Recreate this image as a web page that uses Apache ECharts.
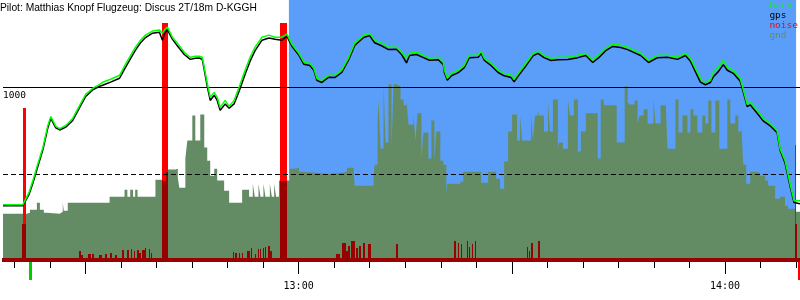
<!DOCTYPE html>
<html><head><meta charset="utf-8">
<script src="https://cdn.jsdelivr.net/npm/echarts@6/dist/echarts.min.js"></script>
<style>html,body{margin:0;padding:0;background:#fff}#c{width:800px;height:300px}</style>
</head><body><div id="c"></div>
<script>
// ---- data (time in minutes after 12:00, altitude in metres) ----
const titleText = 'Pilot: Matthias Knopf Flugzeug: Discus 2T/18m D-KGGH';
const legendNames = ['baro', 'gps', 'noise', 'gnd'];

const times = [18.4,21.2,21.48,22.05,22.61,23.31,24.01,24.71,25.13,25.41,25.83,26.39,27.23,28.21,29.19,30.04,31.02,32.00,32.42,33.54,34.80,35.50,36.20,37.04,37.75,38.45,39.43,40.41,40.83,41.11,41.53,42.23,42.93,43.91,44.76,45.46,46.02,46.44,46.72,47.14,47.56,48.12,48.54,48.96,49.66,50.22,50.92,51.62,52.47,53.17,53.87,54.85,55.83,56.67,57.65,58.35,59.05,60.04,60.74,61.58,62.14,62.56,63.26,64.24,65.08,66.07,67.05,67.89,69.15,69.99,70.69,71.67,72.65,73.78,74.48,75.18,75.60,76.58,77.56,78.40,79.66,80.36,80.50,80.92,81.49,82.47,83.31,84.01,85.27,85.69,86.11,87.09,88.07,88.92,89.90,90.32,91.02,92.00,92.98,93.68,94.52,95.50,96.48,97.89,99.29,100.41,101.39,102.23,103.21,104.20,105.32,106.30,107.14,108.12,109.24,110.50,111.91,113.31,114.43,115.13,115.83,116.53,117.23,117.94,118.36,119.06,119.76,120.32,121.16,122.14,122.56,123.12,123.54,124.52,125.36,126.35,127.33,127.75,128.45,129.15,129.71,130.55];

const baro = [328,328,339,397,466,563,655,782,833,822,776,764,782,822,897,960,994,1017,1029,1046,1069,1121,1172,1230,1270,1299,1322,1328,1310,1328,1345,1287,1253,1201,1172,1178,1178,1172,1115,1023,943,971,943,885,925,891,925,1000,1098,1172,1230,1287,1299,1287,1287,1305,1247,1195,1144,1138,1109,1052,1040,1069,1069,1098,1172,1253,1299,1310,1270,1253,1230,1230,1201,1167,1195,1201,1184,1167,1172,1144,1098,1052,1080,1098,1126,1184,1184,1207,1167,1138,1098,1080,1069,1046,1086,1138,1195,1207,1184,1167,1172,1172,1184,1195,1155,1184,1224,1247,1241,1230,1213,1195,1155,1184,1184,1172,1195,1167,1109,1052,1029,1040,1086,1115,1155,1115,1098,1052,989,902,914,868,822,793,753,649,580,448,351,351];

const gps = [322,322,330,385,452,548,642,768,822,815,768,756,772,810,885,948,985,1006,1012,1030,1052,1104,1155,1213,1255,1285,1310,1316,1270,1305,1330,1276,1238,1188,1160,1166,1168,1160,1100,1005,925,955,925,868,905,880,905,978,1075,1150,1210,1270,1282,1275,1270,1292,1235,1183,1132,1125,1098,1040,1028,1058,1056,1085,1158,1240,1285,1296,1255,1238,1216,1218,1188,1140,1182,1188,1170,1155,1158,1130,1085,1040,1066,1084,1112,1170,1172,1195,1155,1124,1085,1066,1056,1032,1072,1124,1180,1194,1170,1154,1158,1160,1170,1182,1142,1170,1210,1234,1228,1216,1200,1182,1142,1170,1172,1160,1182,1150,1090,1030,1015,1028,1060,1090,1130,1098,1080,1035,975,890,900,852,808,780,740,640,565,435,340,334];

// ground elevation steps [start time, altitude]
const gnd = [[18.4,276],[21.76,282],[22.19,299],[23.17,339],[23.59,299],[24.15,282],[24.57,276],[26.39,287],[26.81,339],[26.95,293],[27.51,339],[33.40,374],[35.50,414],[35.9,374],[36.3,414],[36.7,374],[37.0,414],[37.33,374],[39.85,471],[41.4,529],[42.65,534],[43.0,483],[43.21,425],[44.06,592],[44.34,695],[45.04,839],[45.46,695],[46.16,845],[46.72,655],[47.14,580],[47.56,494],[48.12,534],[48.54,466],[49.52,408],[50.22,339],[52.05,414],[53.03,374],[53.55,448],[53.83,374],[54.35,448],[54.63,374],[55.05,448],[55.33,374],[55.95,448],[56.23,374],[56.55,448],[56.83,374],[57.23,466],[58.77,534],[59.48,540],[60.04,517],[60.46,511],[62.5,505],[64.0,511],[66.06,517],[66.8,540],[67.75,517],[67.89,437],[70.55,477],[70.69,557],[71.11,799],[71.25,931],[71.53,649],[71.95,1017],[72.23,684],[72.65,1017],[73.07,649],[73.35,1017],[73.78,1006],[74.34,931],[74.76,897],[75.18,925],[75.46,787],[76.16,839],[76.44,695],[76.72,851],[77.28,592],[77.56,741],[78.26,592],[78.68,810],[79.10,580],[79.38,747],[79.94,580],[80.36,557],[80.78,397],[80.92,448],[82.75,460],[83.17,517],[85.69,454],[86.67,517],[87.79,477],[88.35,420],[88.92,575],[89.48,747],[90.04,845],[90.74,695],[91.16,839],[91.44,695],[92.70,839],[92.98,695],[93.26,839],[93.68,874],[93.82,839],[94.52,747],[95.08,925],[95.36,747],[95.78,931],[96.48,649],[96.62,684],[97.19,649],[97.89,931],[98.17,839],[98.73,931],[99.29,632],[99.71,747],[100.41,851],[102.09,592],[102.51,931],[102.93,897],[104.76,684],[105.88,1006],[106.30,914],[106.58,902],[107.28,925],[107.70,793],[107.98,839],[108.54,874],[109.10,793],[109.94,931],[110.22,793],[110.93,897],[111.63,931],[111.91,649],[113.03,931],[113.45,741],[114.01,839],[114.71,741],[115.13,874],[115.55,839],[116.11,741],[116.81,839],[117.23,793],[117.65,925],[118.08,741],[118.64,925],[119.20,649],[120.32,931],[120.74,793],[121.44,839],[121.86,747],[122.28,793],[122.56,557],[122.98,448],[123.54,517],[124.24,511],[124.94,494],[125.64,466],[126.07,437],[127.05,362],[127.75,374],[128.45,322],[128.87,305],[129.85,287],[130.55,287]];

// engine noise bars [start, end, level]
const noiseHigh = [[21.25,21.58,882],[40.83,41.67,1370],[57.51,58.35,1370],[129.85,130.0,672]];
const noiseLow = [[21.2,21.65,218],[40.83,41.4,466],[41.4,41.67,517],[57.51,58.35,466],[129.85,130.1,218],
 [29.19,29.35,63],[29.47,29.6,40],[30.5,30.8,46],[31.02,31.16,46],[32.0,32.4,40],[32.84,32.98,46],[33.54,33.68,52],[34.24,34.38,40],[35.22,35.36,69],[35.85,36.1,69],[36.48,36.62,75],[36.9,37.04,63],[37.33,37.47,69],[37.61,37.75,52],[38.1,38.35,69],[38.45,38.59,80],[39.01,39.15,75],[39.29,39.43,52],
 [50.78,50.92,57],[51.15,51.35,52],[51.62,51.76,52],[52.05,52.19,52],[52.85,53.1,63],[53.31,53.45,80],[53.87,54.01,46],[54.29,54.43,75],[54.57,54.71,75],[54.99,55.13,80],[55.27,55.41,86],[55.83,55.97,92],[56.11,56.25,63],
 [65.36,65.5,46],[65.64,65.78,46],[66.2,66.34,109],[66.48,66.62,109],[66.76,66.9,63],[67.05,67.19,92],[67.47,67.61,121],[67.75,67.89,121],[68.17,68.31,80],[68.59,68.73,92],[69.15,69.29,109],[69.85,69.99,103],[70.0,70.14,103],[73.78,73.92,103],
 [81.91,82.1,121],[82.47,82.61,109],[82.89,83.03,103],[83.73,83.87,121],[84.01,84.15,86],[84.43,84.57,103],[84.85,84.99,121],
 [92.14,92.28,86],[92.42,92.56,63],[92.7,92.98,109],[93.82,93.96,121]];
const noiseFloor = [[18.4,130.55,23]];

const blueSpan = [58.63, 130.0];
const refSolid = 1000, refDashed = 500;
const minorTicks = [20,25,35,40,45,50,55,65,70,75,80,85,95,100,105,110,115,125,130];
const majorTicks = [30,60,90,120];
const labelTicks = [60,120];
const altLabels = [1000];
const takeoff = 22.25, landing = 130.35;
const engineRuns = [[18.4,22.3],[130.4,130.55]];

// ---- chart ----
const MONO = '"DejaVu Sans Mono", monospace';
const fmtTime = v => { const h = 12 + Math.floor(v/60), m = Math.round(v%60); return h + ':' + String(m).padStart(2,'0'); };

function barRenderer(color){
  return function(params, api){
    const p0 = api.coord([api.value(0), api.value(2)]);
    const p1 = api.coord([api.value(1), 0]);
    const x = Math.floor(p0[0]);
    return {type:'rect', shape:{x:x, y:Math.round(p0[1]), width:Math.max(1, Math.round(p1[0]-x)), height:Math.round(p1[1]-p0[1])}, style:{fill:color}};
  };
}

const chart = echarts.init(document.getElementById('c'), null, {renderer:'canvas'});
const axisBase = {type:'value', min:18.4, max:130.55, position:'bottom', splitLine:{show:false}, axisLine:{show:false}};
chart.setOption({
  animation:false,
  title:{text:titleText, left:0, top:3, padding:0, textStyle:{fontFamily:'"Liberation Sans", Arial, sans-serif', fontSize:10.25, fontWeight:'normal', color:'#000'}},
  legend:{orient:'vertical', right:2, top:1, padding:0, icon:'none', itemWidth:0, itemHeight:9, itemGap:0, selectedMode:false,
    textStyle:{fontFamily:MONO, fontSize:9.5, lineHeight:9.5},
    data:[{name:'baro', textStyle:{color:'#00ff00'}},{name:'gps', textStyle:{color:'#000'}},{name:'noise', textStyle:{color:'#ff0000'}},{name:'gnd', textStyle:{color:'#648c64'}}]},
  grid:{left:0, right:0, top:0, height:262, containLabel:false},
  xAxis:[
    Object.assign({}, axisBase, {axisTick:{show:true, customValues:minorTicks, length:6, lineStyle:{color:'#000', width:1}}, axisLabel:{show:false}}),
    Object.assign({}, axisBase, {axisTick:{show:true, customValues:majorTicks, length:12, lineStyle:{color:'#000', width:1}},
      axisLabel:{show:true, customValues:labelTicks, formatter:fmtTime, margin:19, fontFamily:MONO, fontSize:10, color:'#000'}})
  ],
  yAxis:{type:'value', min:0, max:1500, splitLine:{show:false}, axisLine:{show:false}, axisTick:{show:false},
    axisLabel:{show:true, inside:true, customValues:altLabels, formatter:v => String(v), margin:0, verticalAlign:'top', padding:[3,0,0,0], fontFamily:MONO, fontSize:9.5, color:'#000'}},
  series:[
    {name:'bg', type:'line', data:[], z:0, silent:true,
      markArea:{silent:true, itemStyle:{color:'#5b9ef9'}, data:[[{xAxis:blueSpan[0]},{xAxis:blueSpan[1]}]]}},
    {name:'gnd', type:'line', step:'end', data:gnd, symbol:'none', z:1, color:'#648c64',
      lineStyle:{width:0}, areaStyle:{color:'#648c64', opacity:1}},
    {name:'ref', type:'line', data:[], z:2, silent:true,
      markLine:{silent:true, symbol:'none', label:{show:false},
        data:[{yAxis:refSolid, lineStyle:{type:'solid', color:'#000', width:1}},{yAxis:refDashed, lineStyle:{type:[5,3], color:'#000', width:1}}]}},
    {name:'noise', type:'custom', z:3, color:'#ff0000', data:noiseHigh, encode:{x:[0,1], y:2}, renderItem:barRenderer('#ff0000')},
    {name:'noiseLow', type:'custom', z:4, data:noiseFloor.concat(noiseLow), encode:{x:[0,1], y:2}, renderItem:barRenderer('#990000')},
    {name:'gps', type:'line', data:times.map((t,i)=>[t,gps[i]]), symbol:'none', z:5, color:'#000', lineStyle:{color:'#000', width:1.5}},
    {name:'baro', type:'line', data:times.map((t,i)=>[t,baro[i]]), symbol:'none', z:6, color:'#00ff00', lineStyle:{color:'#00ff00', width:1.5}},
    {name:'events', type:'custom', z:7, clip:false, silent:true,
      data:[[takeoff, 0], [landing, 1]].concat(engineRuns.map(r=>[r[0], 2, r[1]])), encode:{x:0},
      renderItem:function(params, api){
        const kind = api.value(1);
        const p = api.coord([api.value(0), 0]);
        if (kind === 2) {
          const q = api.coord([api.value(2), 0]);
          return {type:'rect', shape:{x:Math.round(p[0]), y:p[1]+23, width:Math.max(1, Math.round(q[0]-p[0])), height:7}, style:{fill:'#990000'}};
        }
        return {type:'rect', shape:{x:Math.round(p[0])-1, y:p[1], width:3, height:18}, style:{fill: kind === 0 ? '#00cc00' : '#ff0000'}};
      }}
  ]
});
</script></body></html>
